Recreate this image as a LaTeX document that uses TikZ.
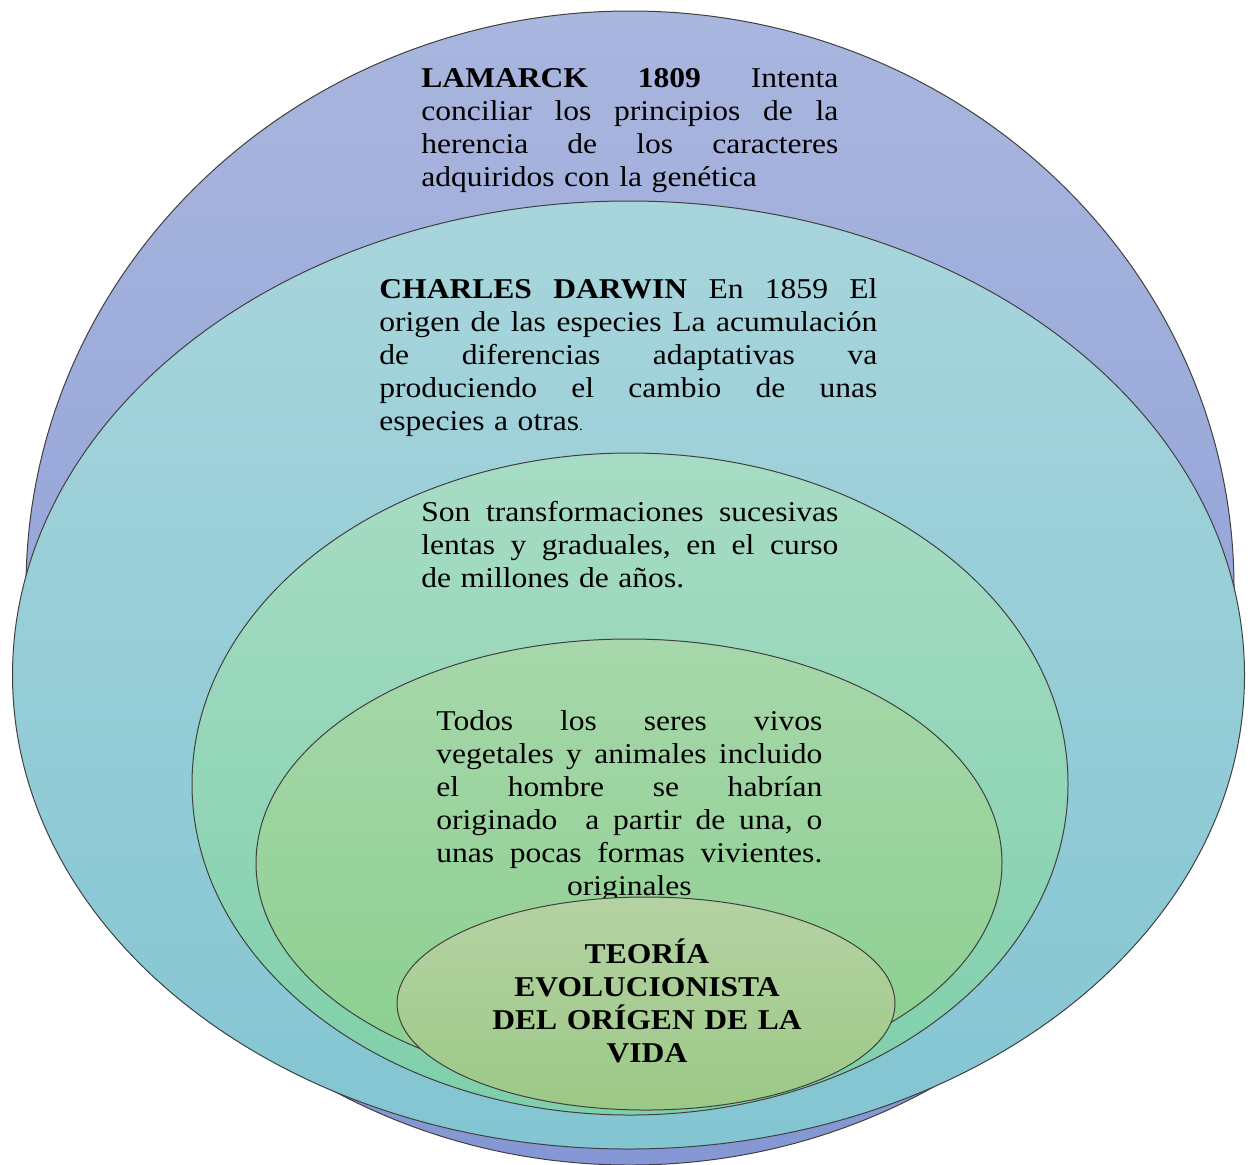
\documentclass[tikz,border=0pt]{standalone}
\usepackage{fontspec}
\setmainfont{Liberation Serif}[FakeStretch=1.1]
\frenchspacing
\newcommand{\jline}[2]{\hbox to #1{\spaceskip=\fontdimen2\font plus 1fil\relax #2}}
\newcommand{\centline}[2]{\hbox to #1{\hfil#2\hfil}}
\definecolor{eAtop}{HTML}{A9B6DE}
\definecolor{eAbot}{HTML}{8597D4}
\definecolor{eBtop}{HTML}{A8D5DC}
\definecolor{eBbot}{HTML}{83C5D2}
\definecolor{eCtop}{HTML}{A7DCC4}
\definecolor{eCbot}{HTML}{7ECFAA}
\definecolor{eDtop}{HTML}{A7D7AA}
\definecolor{eDbot}{HTML}{8ACF8E}
\definecolor{eEtop}{HTML}{B5D2A2}
\definecolor{eEbot}{HTML}{9CC987}
\begin{document}
\begin{tikzpicture}[x=0.5pt,y=-0.5pt,
  ring/.style={draw=black!75, line width=0.5pt},
  txt/.style={inner sep=0pt, anchor=base west, font={\fontsize{14.35}{16.5}\selectfont}}]
\fill[white] (0,0) rectangle (1252,1164);
\useasboundingbox (0,0) rectangle (1252,1164);
% ring 1
\path[ring, top color=eAtop, bottom color=eAbot] (630,588) ellipse [x radius=604, y radius=577];
\node[txt, text width=208.5pt] (lamarck) at (421,87) {%
\jline{208.5pt}{\textbf{LAMARCK 1809} Intenta}
\jline{208.5pt}{conciliar los principios de la}
\jline{208.5pt}{herencia de los caracteres}
\hbox{adquiridos con la genética}};
% ring 2
\path[ring, top color=eBtop, bottom color=eBbot] (628.5,675) ellipse [x radius=616, y radius=474];
\node[txt, text width=249pt] (darwin) at (379,298) {%
\jline{249pt}{\textbf{CHARLES DARWIN} En 1859 El}
\jline{249pt}{origen de las especies La acumulación}
\jline{249pt}{de diferencias adaptativas va}
\jline{249pt}{produciendo el cambio de unas}
\hbox{especies a otras{\fontsize{7}{8}\selectfont.}}};
% ring 3
\path[ring, top color=eCtop, bottom color=eCbot] (630,784) ellipse [x radius=438, y radius=331];
\node[txt, text width=208.5pt] (transf) at (421,521) {%
\jline{208.5pt}{Son transformaciones sucesivas}
\jline{208.5pt}{lentas y graduales, en el curso}
\hbox{de millones de años.}};
% ring 4
\path[ring, top color=eDtop, bottom color=eDbot] (629,863) ellipse [x radius=373, y radius=224];
\node[txt, text width=193pt] (todos) at (436,730) {%
\jline{193pt}{Todos los seres vivos}
\jline{193pt}{vegetales y animales incluido}
\jline{193pt}{el hombre se habrían}
\jline{193pt}{originado\ \ a partir de una, o}
\jline{193pt}{unas pocas formas vivientes.}
\centline{193pt}{originales}};
% ring 5
\path[ring, top color=eEtop, bottom color=eEbot] (646,1003.5) ellipse [x radius=249, y radius=106.5];
\node[inner sep=0pt, anchor=base, align=center, text width=180pt,
      font={\fontsize{14.35}{16.5}\selectfont\bfseries}] (teoria) at (647,963)
  {TEORÍA\\EVOLUCIONISTA\\DEL ORÍGEN DE LA\\VIDA};
\end{tikzpicture}
\end{document}
